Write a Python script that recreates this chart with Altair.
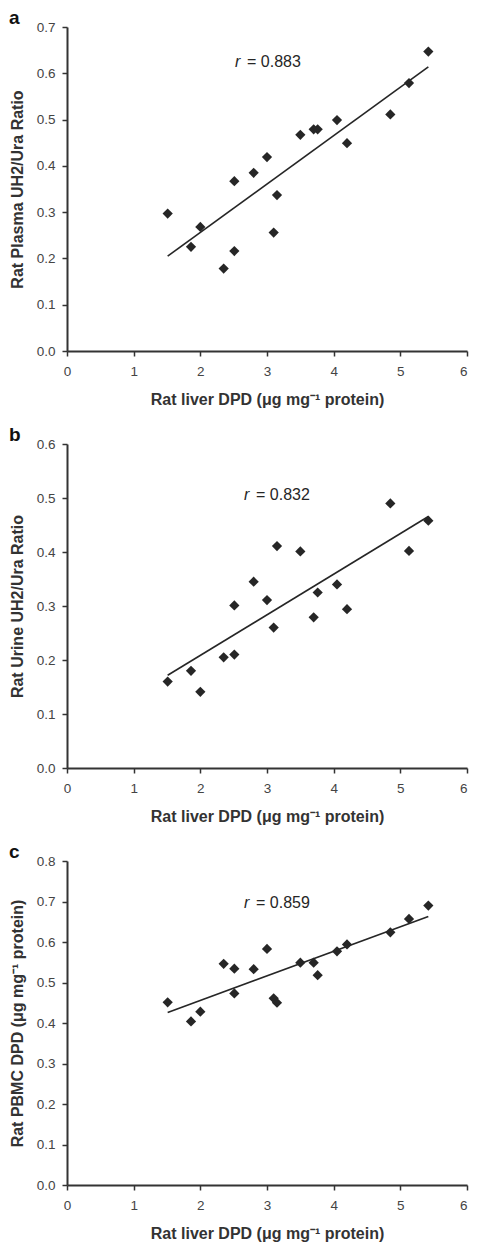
import altair as alt
import pandas as pd

# ---- data ----
liver_dpd = [1.51, 1.86, 2.00, 2.35, 2.51, 2.51, 2.80, 3.00, 3.10, 3.15,
             3.50, 3.70, 3.76, 4.05, 4.20, 4.85, 5.13, 5.42]
plasma_ratio = [0.297, 0.225, 0.268, 0.178, 0.367, 0.216, 0.385, 0.419, 0.256, 0.337,
                0.467, 0.479, 0.479, 0.499, 0.449, 0.511, 0.579, 0.647]
urine_ratio = [0.160, 0.180, 0.141, 0.205, 0.301, 0.210, 0.345, 0.311, 0.260, 0.411,
               0.401, 0.279, 0.325, 0.340, 0.294, 0.490, 0.402, 0.458]
pbmc_dpd = [0.451, 0.404, 0.428, 0.546, 0.534, 0.473, 0.533, 0.583, 0.461, 0.450,
            0.549, 0.549, 0.518, 0.577, 0.594, 0.624, 0.657, 0.690]

panel_letters = ["a", "b", "c"]
r_values = ["0.883", "0.832", "0.859"]
y_titles = ["Rat Plasma UH2/Ura Ratio",
            "Rat Urine UH2/Ura Ratio",
            "Rat PBMC DPD  (\u03bcg mg\u207b\u00b9 protein)"]
x_title = "Rat liver DPD (\u03bcg mg\u207b\u00b9 protein)"
x_ticks = [0, 1, 2, 3, 4, 5, 6]
y_ticks_a = [0.0, 0.1, 0.2, 0.3, 0.4, 0.5, 0.6, 0.7]
y_ticks_b = [0.0, 0.1, 0.2, 0.3, 0.4, 0.5, 0.6]
y_ticks_c = [0.0, 0.1, 0.2, 0.3, 0.4, 0.5, 0.6, 0.7, 0.8]

INK = "#262626"
FONT = "Liberation Sans"
W, H = 400, 324


def panel(yvals, yticks, ytitle, letter, rval, r_x, r_y):
    df = pd.DataFrame({"x": liver_dpd, "y": yvals})
    xs = alt.X("x:Q", scale=alt.Scale(domain=[0, 6], nice=False, zero=False),
               axis=alt.Axis(values=x_ticks, format="d", title=x_title,
                             labelAlign={"condition": {"test": "datum.value == 6",
                                                       "value": "right"},
                                         "value": "center"}))
    ys = alt.Y("y:Q", scale=alt.Scale(domain=[yticks[0], yticks[-1]], nice=False),
               axis=alt.Axis(values=yticks, format=".1f", title=ytitle))
    base = alt.Chart(df)
    line = base.transform_regression("x", "y").mark_line(
        color=INK, strokeWidth=1.6).encode(x=xs, y=ys)
    pts = base.mark_point(shape="diamond", filled=True, size=105, color=INK,
                          opacity=1).encode(x=xs, y=ys)
    lab = alt.Chart(pd.DataFrame({"t": [letter]})).mark_text(
        font=FONT, fontWeight="bold", fontSize=19, align="left",
        baseline="alphabetic", color="#111111").encode(
        text="t:N", x=alt.value(-58), y=alt.value(-3))
    r_it = alt.Chart(pd.DataFrame({"t": ["r"]})).mark_text(
        font=FONT, fontStyle="italic", fontSize=16, align="left",
        baseline="alphabetic", color=INK).encode(
        text="t:N", x=alt.value(r_x), y=alt.value(r_y))
    r_val = alt.Chart(pd.DataFrame({"t": ["= " + rval]})).mark_text(
        font=FONT, fontSize=16, align="left",
        baseline="alphabetic", color=INK).encode(
        text="t:N", x=alt.value(r_x + 12), y=alt.value(r_y))
    return alt.layer(line, pts, lab, r_it, r_val).properties(width=W, height=H)


pa = panel(plasma_ratio, y_ticks_a, y_titles[0], panel_letters[0], r_values[0], 168, 40)
pb = panel(urine_ratio, y_ticks_b, y_titles[1], panel_letters[1], r_values[1], 177, 56)
pc = panel(pbmc_dpd, y_ticks_c, y_titles[2], panel_letters[2], r_values[2], 177, 47)

chart = alt.vconcat(pa, pb, pc, spacing=17).properties(
    padding=0
).configure_axis(
    domainColor="#333333", domainWidth=2,
    tickColor="#333333", tickWidth=1.5, tickSize=5,
    labelFont=FONT, labelFontSize=13.5, labelColor="#444444",
    titleFont=FONT, titleFontSize=16, titleFontWeight="bold", titleColor="#333333",
    grid=False
).configure_axisY(
    labelPadding=7, titlePadding=11
).configure_axisX(
    labelPadding=8, titlePadding=14
).configure_view(
    stroke="transparent"
)

chart.save("out.html", embed_options={"renderer": "svg", "actions": False})
